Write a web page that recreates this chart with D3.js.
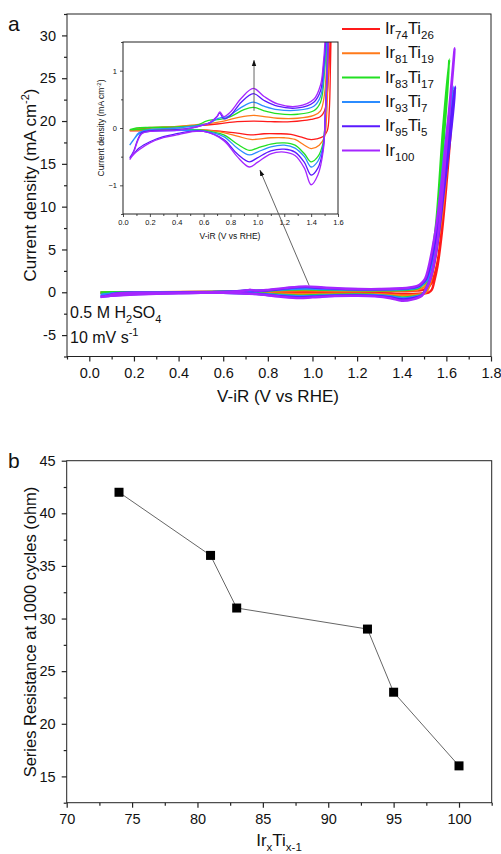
<!DOCTYPE html>
<html><head><meta charset="utf-8">
<script src="https://cdn.jsdelivr.net/npm/d3@7"></script>
<style>
body{margin:0;background:#fff}
svg{display:block}
text{font-family:"Liberation Sans",Arial,sans-serif;fill:#111}
</style>
</head><body>
<svg id="fig" width="501" height="854"></svg>
<script>
// ---- Panel a: cyclic voltammograms, [V-iR, current density] ----
const seriesKeys = ["Ir74Ti26", "Ir81Ti19", "Ir83Ti17", "Ir93Ti7", "Ir95Ti5", "Ir100"];
const seriesLabelParts = [["Ir","74","Ti","26"],["Ir","81","Ti","19"],["Ir","83","Ti","17"],["Ir","93","Ti","7"],["Ir","95","Ti","5"],["Ir","100"]];
const seriesColors = ["#ff1a1a", "#ff7a1a", "#22e022", "#2b8cff", "#5a1aff", "#a526ff"];

// anodic (forward) scans
const ir74ti26Forward = [[0.05,-0.05],[0.1,-0.02],[0.2,0.0],[0.4,0.02],[0.55,0.04],[0.7,0.07],[0.85,0.11],[0.97,0.12],[1.1,0.11],[1.25,0.11],[1.4,0.15],[1.47,0.2],[1.5,0.3],[1.52,0.6],[1.54,1.5],[1.56,3.5],[1.58,7.5],[1.6,13],[1.62,19.5],[1.632,23.5]];
const ir81ti19Forward = [[0.05,-0.04],[0.1,-0.01],[0.2,0.01],[0.4,0.03],[0.55,0.06],[0.65,0.08],[0.75,0.12],[0.87,0.19],[0.97,0.22],[1.05,0.2],[1.15,0.17],[1.3,0.17],[1.42,0.22],[1.47,0.3],[1.5,0.6],[1.52,1.5],[1.55,4.5],[1.58,10],[1.6,15],[1.625,23.8]];
const ir83ti17Forward = [[0.05,-0.03],[0.1,0.0],[0.2,0.01],[0.4,0.02],[0.55,0.05],[0.62,0.12],[0.66,0.14],[0.72,0.15],[0.8,0.2],[0.9,0.32],[0.97,0.36],[1.05,0.3],[1.15,0.25],[1.3,0.24],[1.42,0.3],[1.47,0.45],[1.5,1.0],[1.515,1.6],[1.55,7],[1.585,19],[1.613,27.2]];
const ir93ti7Forward = [[0.05,-0.3],[0.08,-0.2],[0.12,-0.08],[0.2,-0.03],[0.4,0.0],[0.55,0.04],[0.65,0.09],[0.7,0.16],[0.73,0.18],[0.78,0.2],[0.88,0.36],[0.97,0.45],[1.05,0.38],[1.15,0.32],[1.3,0.31],[1.42,0.38],[1.47,0.55],[1.5,1.1],[1.515,1.6],[1.55,6],[1.59,16],[1.63,24]];
const ir95ti5Forward = [[0.05,-0.52],[0.08,-0.4],[0.11,-0.2],[0.14,-0.08],[0.2,-0.05],[0.4,-0.03],[0.55,0.02],[0.65,0.1],[0.7,0.2],[0.72,0.26],[0.75,0.16],[0.8,0.22],[0.88,0.45],[0.97,0.6],[1.05,0.48],[1.15,0.38],[1.3,0.35],[1.42,0.45],[1.47,0.65],[1.49,1.0],[1.51,1.6],[1.55,6],[1.6,16],[1.64,24]];
const ir100Forward = [[0.05,-0.55],[0.08,-0.42],[0.11,-0.22],[0.14,-0.1],[0.2,-0.06],[0.4,-0.04],[0.55,0.02],[0.65,0.1],[0.7,0.2],[0.72,0.28],[0.75,0.2],[0.8,0.28],[0.88,0.52],[0.97,0.69],[1.05,0.55],[1.15,0.42],[1.3,0.38],[1.42,0.5],[1.47,0.75],[1.49,1.1],[1.505,1.6],[1.55,7],[1.6,18],[1.637,28.5]];

// cathodic (reverse) scans
const ir74ti26Reverse = [[1.62,19],[1.6,12.5],[1.58,7],[1.56,3],[1.545,1.2],[1.535,0.3],[1.52,-0.05],[1.49,-0.15],[1.44,-0.19],[1.39,-0.2],[1.33,-0.16],[1.25,-0.11],[1.15,-0.1],[1.05,-0.1],[0.95,-0.12],[0.85,-0.09],[0.7,-0.05],[0.55,-0.03],[0.4,-0.03],[0.2,-0.04],[0.1,-0.05],[0.05,-0.05]];
const ir81ti19Reverse = [[1.6,14],[1.58,9],[1.55,4],[1.53,1.3],[1.515,0.2],[1.5,-0.15],[1.46,-0.3],[1.4,-0.36],[1.35,-0.3],[1.28,-0.2],[1.2,-0.17],[1.1,-0.17],[0.95,-0.2],[0.85,-0.14],[0.7,-0.06],[0.55,-0.03],[0.4,-0.03],[0.2,-0.03],[0.1,-0.04],[0.05,-0.04]];
const ir83ti17Reverse = [[1.6,22],[1.57,12],[1.54,4],[1.52,1.2],[1.505,0.2],[1.49,-0.25],[1.45,-0.5],[1.4,-0.59],[1.35,-0.45],[1.28,-0.3],[1.2,-0.26],[1.1,-0.28],[1.0,-0.35],[0.94,-0.39],[0.85,-0.28],[0.75,-0.12],[0.6,-0.04],[0.45,-0.02],[0.2,-0.02],[0.1,-0.03],[0.05,-0.03]];
const ir93ti7Reverse = [[1.62,21],[1.58,12],[1.545,4],[1.52,1.2],[1.505,0.2],[1.49,-0.3],[1.45,-0.58],[1.4,-0.68],[1.35,-0.5],[1.28,-0.35],[1.2,-0.3],[1.1,-0.33],[1.0,-0.42],[0.94,-0.47],[0.85,-0.35],[0.75,-0.15],[0.6,-0.05],[0.45,-0.04],[0.3,-0.05],[0.2,-0.06],[0.12,-0.1],[0.08,-0.2],[0.05,-0.3]];
const ir95ti5Reverse = [[1.63,21],[1.59,12],[1.55,4],[1.525,1.3],[1.505,0.2],[1.49,-0.35],[1.45,-0.7],[1.4,-0.82],[1.35,-0.6],[1.28,-0.42],[1.2,-0.37],[1.1,-0.4],[1.0,-0.52],[0.94,-0.59],[0.85,-0.45],[0.75,-0.2],[0.6,-0.06],[0.5,-0.06],[0.4,-0.1],[0.3,-0.15],[0.2,-0.24],[0.12,-0.35],[0.08,-0.45],[0.05,-0.52]];
const ir100Reverse = [[1.63,26],[1.6,17],[1.555,5],[1.525,1.3],[1.505,0.2],[1.49,-0.4],[1.45,-0.82],[1.4,-0.99],[1.35,-0.7],[1.28,-0.48],[1.2,-0.42],[1.1,-0.45],[1.0,-0.6],[0.94,-0.68],[0.85,-0.5],[0.75,-0.22],[0.6,-0.06],[0.5,-0.07],[0.4,-0.12],[0.3,-0.17],[0.2,-0.26],[0.12,-0.38],[0.08,-0.46],[0.05,-0.55]];

const forwardScans = [ir74ti26Forward, ir81ti19Forward, ir83ti17Forward, ir93ti7Forward, ir95ti5Forward, ir100Forward];
const reverseScans = [ir74ti26Reverse, ir81ti19Reverse, ir83ti17Reverse, ir93ti7Reverse, ir95ti5Reverse, ir100Reverse];

const mainXTicks = [0.0,0.2,0.4,0.6,0.8,1.0,1.2,1.4,1.6,1.8];
const mainYTicks = [-5,0,5,10,15,20,25,30];
const insetXTicks = [0.0,0.2,0.4,0.6,0.8,1.0,1.2,1.4,1.6];
const insetYTicks = [-1,0,1];

// ---- Panel b: series resistance after 1000 cycles ----
const irContent = [74, 81, 83, 93, 95, 100];
const seriesResistance = [42, 36, 31, 29, 23, 16];
const bXTicks = [70,75,80,85,90,95,100];
const bYTicks = [15,20,25,30,35,40,45];

const svg = d3.select("#fig");
const axisColor = "#222";

function minorRange(lo, hi, step) {
  const out = [];
  for (let v = lo; v <= hi + 1e-9; v += step) out.push(+v.toFixed(4));
  return out;
}

function frame(g, x, y) {
  g.append("rect")
    .attr("x", x.range()[0]).attr("y", y.range()[1])
    .attr("width", x.range()[1] - x.range()[0])
    .attr("height", y.range()[0] - y.range()[1])
    .attr("fill", "none").attr("stroke", axisColor);
}

function styleAxis(sel, fontSize, sw) {
  sel.select(".domain").remove();
  sel.selectAll("line").attr("stroke", axisColor).attr("stroke-width", sw);
  sel.selectAll("text").attr("font-size", fontSize).attr("fill", "#111")
    .style("font-family", '"Liberation Sans",Arial,sans-serif');
}

function axes(g, x, y, o) {
  const xMajor = g.append("g").attr("transform", `translate(0,${y.range()[0]})`)
    .call(d3.axisBottom(x).tickValues(o.xTicks).tickSize(o.major).tickPadding(o.pad).tickFormat(o.xFmt));
  styleAxis(xMajor, o.font, o.sw);
  const xMinor = g.append("g").attr("transform", `translate(0,${y.range()[0]})`)
    .call(d3.axisBottom(x).tickValues(o.xMinor).tickSize(o.minor).tickFormat(""));
  styleAxis(xMinor, o.font, o.sw);
  const yMajor = g.append("g").attr("transform", `translate(${x.range()[0]},0)`)
    .call(d3.axisLeft(y).tickValues(o.yTicks).tickSize(o.major).tickPadding(o.pad).tickFormat(o.yFmt));
  styleAxis(yMajor, o.font, o.sw);
  const yMinor = g.append("g").attr("transform", `translate(${x.range()[0]},0)`)
    .call(d3.axisLeft(y).tickValues(o.yMinor).tickSize(o.minor).tickFormat(""));
  styleAxis(yMinor, o.font, o.sw);
  frame(g, x, y);
}

function subText(sel, parts, size, subSize, shift) {
  parts.forEach((p, i) => {
    const isSub = i % 2 === 1;
    sel.append("tspan").text(p)
      .attr("font-size", isSub ? subSize : size)
      .attr("dy", i === 0 ? 0 : (isSub ? shift : -shift));
  });
}

// ===== Panel a =====
const xMain = d3.scaleLinear([-0.1, 1.8], [67, 491]);
const yMain = d3.scaleLinear([-7.5, 32.5], [356.5, 14]);
const gA = svg.append("g");

svg.append("defs").html(`
  <clipPath id="clipMain"><rect x="67" y="14" width="424" height="342.5"/></clipPath>
  <clipPath id="clipInset"><rect x="123" y="42" width="215" height="172"/></clipPath>
  <marker id="arrowHead" viewBox="0 0 10 10" refX="9" refY="5" markerWidth="7" markerHeight="7" orient="auto-start-reverse">
    <path d="M0,1.5 L10,5 L0,8.5 z" fill="#111"/>
  </marker>`);

const cvLine = (x, y) => d3.line().x(d => x(d[0])).y(d => y(d[1])).curve(d3.curveCatmullRom.alpha(0.5));
const loops = forwardScans.map((f, i) => f.concat(reverseScans[i]));

gA.append("g").attr("clip-path", "url(#clipMain)")
  .selectAll("path").data(loops).join("path")
  .attr("d", cvLine(xMain, yMain))
  .attr("fill", "none")
  .attr("stroke", (d, i) => seriesColors[i])
  .attr("stroke-width", 2.4)
  .attr("stroke-linejoin", "round");

axes(gA, xMain, yMain, {
  xTicks: mainXTicks, xMinor: minorRange(-0.1, 1.8, 0.1).filter(v => Math.abs((v * 10) % 2) > 0.5),
  yTicks: mainYTicks, yMinor: [-7.5, -2.5, 2.5, 7.5, 12.5, 17.5, 22.5, 27.5, 32.5],
  major: 5, minor: 3, pad: 6, font: 14.5, sw: 1.2,
  xFmt: d3.format(".1f"), yFmt: d => d < 0 ? "-" + Math.abs(d) : d
});

gA.append("text").attr("x", 278).attr("y", 402).attr("text-anchor", "middle")
  .attr("font-size", 17).text("V-iR (V vs RHE)");
const yTitleA = gA.append("text").attr("transform", "translate(36,185) rotate(-90)")
  .attr("text-anchor", "middle");
subText(yTitleA, ["Current density (mA cm", "-2", ")"], 17, 11, -7);
gA.append("text").attr("x", 8).attr("y", 31).attr("font-size", 21).text("a");

const cond1 = gA.append("text").attr("x", 70).attr("y", 318);
subText(cond1, ["0.5 M H", "2", "SO", "4"], 16, 11, 5);
const cond2 = gA.append("text").attr("x", 70).attr("y", 343);
subText(cond2, ["10 mV s", "-1"], 16, 11, -7);

// legend
const legend = gA.append("g");
seriesKeys.forEach((k, i) => {
  const ly = 29 + i * 24.3;
  legend.append("line").attr("x1", 342).attr("x2", 380).attr("y1", ly).attr("y2", ly)
    .attr("stroke", seriesColors[i]).attr("stroke-width", 2);
  const t = legend.append("text").attr("x", 385).attr("y", ly + 5);
  subText(t, seriesLabelParts[i], 16.5, 11.5, 5);
});

// ===== Inset =====
const xIns = d3.scaleLinear([0, 1.6], [123, 338]);
const yIns = d3.scaleLinear([-1.5, 1.5], [214, 42]);
const gI = svg.append("g");
gI.append("rect").attr("x", 123).attr("y", 42).attr("width", 215).attr("height", 172).attr("fill", "#fff");
gI.append("g").attr("clip-path", "url(#clipInset)")
  .selectAll("path").data(loops).join("path")
  .attr("d", cvLine(xIns, yIns))
  .attr("fill", "none")
  .attr("stroke", (d, i) => seriesColors[i])
  .attr("stroke-width", 1.3)
  .attr("stroke-linejoin", "round");

axes(gI, xIns, yIns, {
  xTicks: insetXTicks, xMinor: [0.1,0.3,0.5,0.7,0.9,1.1,1.3,1.5],
  yTicks: insetYTicks, yMinor: [-1.5,-0.5,0.5,1.5],
  major: 3, minor: 2, pad: 3, font: 7.5, sw: 0.8,
  xFmt: d3.format(".1f"), yFmt: d => d < 0 ? "\u22121" : d
});
gI.append("text").attr("x", 230).attr("y", 239).attr("text-anchor", "middle")
  .attr("font-size", 8.5).text("V-iR (V vs RHE)");
const yTitleI = gI.append("text").attr("transform", "translate(104,128) rotate(-90)")
  .attr("text-anchor", "middle");
subText(yTitleI, ["Current density (mA cm", "-2", ")"], 8.5, 6, -3.5);

// arrow showing the trend of the redox peaks
gI.append("line")
  .attr("x1", xIns(0.975)).attr("y1", yIns(0.3))
  .attr("x2", xIns(0.975)).attr("y2", yIns(1.18))
  .attr("stroke", "#555").attr("stroke-width", 0.9)
  .attr("marker-end", "url(#arrowHead)");
// arrow linking the magnified region to the inset
svg.append("line")
  .attr("x1", xMain(0.985)).attr("y1", yMain(0.8))
  .attr("x2", xIns(1.02)).attr("y2", yIns(-0.74))
  .attr("stroke", "#555").attr("stroke-width", 0.9)
  .attr("marker-end", "url(#arrowHead)");

// ===== Panel b =====
const xB = d3.scaleLinear([70, 102.5], [66.7, 491.7]);
const yB = d3.scaleLinear([12.5, 45], [802.7, 460.7]);
const gB = svg.append("g");
axes(gB, xB, yB, {
  xTicks: bXTicks, xMinor: [72.5,77.5,82.5,87.5,92.5,97.5,102.5],
  yTicks: bYTicks, yMinor: [12.5,17.5,22.5,27.5,32.5,37.5,42.5],
  major: 5, minor: 3, pad: 6, font: 14.5, sw: 1.2,
  xFmt: d3.format("d"), yFmt: d3.format("d")
});
const pts = irContent.map((v, i) => [v, seriesResistance[i]]);
gB.append("path").datum(pts)
  .attr("d", d3.line().x(d => xB(d[0])).y(d => yB(d[1])))
  .attr("fill", "none").attr("stroke", "#666").attr("stroke-width", 1);
gB.selectAll("rect.pt").data(pts).join("rect").attr("class", "pt")
  .attr("x", d => xB(d[0]) - 4.5).attr("y", d => yB(d[1]) - 4.5)
  .attr("width", 9).attr("height", 9).attr("fill", "#000");

gB.append("text").attr("transform", "translate(36,632) rotate(-90)")
  .attr("text-anchor", "middle").attr("font-size", 16.5)
  .text("Series Resistance at 1000 cycles (ohm)");
const xTitleB = gB.append("text").attr("x", 279).attr("y", 846).attr("text-anchor", "middle");
subText(xTitleB, ["Ir", "x", "Ti", "x-1"], 17, 11.5, 5);
gB.append("text").attr("x", 8).attr("y", 468).attr("font-size", 21).text("b");
</script>
</body></html>
